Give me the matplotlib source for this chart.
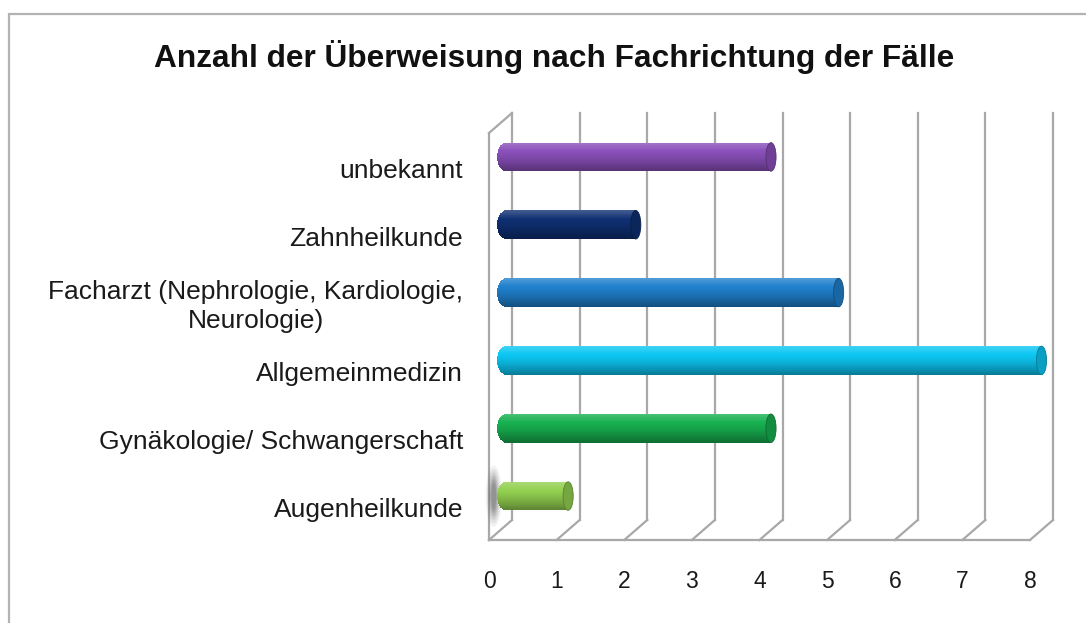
import matplotlib
matplotlib.use("Agg")
import matplotlib.pyplot as plt
import numpy as np
from matplotlib.patches import Ellipse, Rectangle
from matplotlib.transforms import offset_copy
from matplotlib.colors import to_rgb

# ---- data ----
categories = ["Augenheilkunde", "Gynäkologie/ Schwangerschaft", "Allgemeinmedizin",
              "Facharzt (Nephrologie, Kardiologie,\nNeurologie)", "Zahnheilkunde", "unbekannt"]
values = [1, 4, 8, 5, 2, 4]
colors = ["#92d050", "#17b050", "#0cc6f2", "#1f80cc", "#0e2f72", "#8a4fba"]
xticks = [0, 1, 2, 3, 4, 5, 6, 7, 8]
title = "Anzahl der Überweisung nach Fachrichtung der Fälle"

W, H = 1086, 623
fig = plt.figure(figsize=(W / 100, H / 100), dpi=100)
plt.rcParams['font.family'] = ['Liberation Sans', 'DejaVu Sans']

# outer chart frame
fig.patches.append(Rectangle((9 / W, -0.1), 1.2, 1.1 - 14 / H, transform=fig.transFigure,
                             fill=False, edgecolor="#b3b3b3", lw=1.6))

# axes = back wall
x0, x1, yb, yt = 512, 1053, 520, 113
ax = fig.add_axes([x0 / W, 1 - yb / H, (x1 - x0) / W, (yb - yt) / H])
ax.set_xlim(0, 8)
ax.set_ylim(-0.5, 5.5)
for s in ax.spines.values():
    s.set_visible(False)
ax.tick_params(length=0)

DX, DY = -23, -20
front = offset_copy(ax.transData, fig=fig, x=DX, y=DY, units='dots')
mid = offset_copy(ax.transData, fig=fig, x=DX / 2, y=DY / 2, units='dots')
gc = "#a8a8a8"
glw = 1.6

# back wall gridlines + floor diagonals
for k in xticks:
    ax.plot([k, k], [-0.5, 5.5], color=gc, lw=glw, clip_on=False, zorder=1)
    p_back = ax.transData.transform((k, -0.5))
    p_front = front.transform((k, -0.5))
    fig.lines.append(plt.Line2D([p_back[0] / W, p_front[0] / W], [p_back[1] / H, p_front[1] / H],
                                transform=fig.transFigure, color=gc, lw=glw))
# front floor edge
ax.plot([0, 8], [-0.5, -0.5], color=gc, lw=glw, clip_on=False, transform=front, zorder=1)
# left side wall: front vertical and top diagonal
ax.plot([0, 0], [-0.5, 5.5], color=gc, lw=glw, clip_on=False, transform=front, zorder=1)
pb = ax.transData.transform((0, 5.5))
pf = front.transform((0, 5.5))
fig.lines.append(plt.Line2D([pb[0] / W, pf[0] / W], [pb[1] / H, pf[1] / H],
                            transform=fig.transFigure, color=gc, lw=glw))

# bars (cylinders)
bh = 0.42
ew = 0.15
r = 0.13          # horizontal radius of rounded left end (x units)
x_start = -0.05
nstripes = 40
for i, (v, c) in enumerate(zip(values, colors)):
    base = np.array(to_rgb(c))
    light = base + (1 - base) * 0.22
    dark = base * 0.62
    # blurred shadow for the short bar near the side wall
    if i == 0:
        for a, (sw, sh) in zip([0.08, 0.10, 0.13, 0.16, 0.2, 0.22],
                               [(0.24, 0.9), (0.2, 0.8), (0.16, 0.7), (0.13, 0.6),
                                (0.1, 0.5), (0.07, 0.4)]):
            ax.add_patch(Ellipse((-0.1, i), sw, sh, transform=mid, facecolor="#555555",
                                 alpha=a, edgecolor="none", clip_on=False, zorder=2))

    def shade(t):
        if t < 0.3:
            col = light * (1 - t / 0.3) + base * (t / 0.3)
        else:
            u = (t - 0.3) / 0.7
            col = base * (1 - u ** 1.3) + dark * (u ** 1.3)
        return np.clip(col, 0, 1)

    yy = np.linspace(i + bh / 2, i - bh / 2, nstripes + 1)
    for s in range(nstripes):
        t = (s + 0.5) / nstripes
        sn = 2 * t - 1
        left = x_start + r * (1 - np.sqrt(max(0.0, 1 - sn ** 2)))
        ax.barh((yy[s] + yy[s + 1]) / 2, v - left, height=yy[s] - yy[s + 1] + 0.003,
                left=left, color=shade(t), transform=mid, clip_on=False, zorder=4,
                linewidth=0)
    # right end cap
    ax.add_patch(Ellipse((v, i), ew, bh, transform=mid, facecolor=base * 0.8,
                         edgecolor=base * 0.62, lw=0.6, clip_on=False, zorder=5))

# category labels
for i, cat in enumerate(categories):
    p = front.transform((0, i))
    ax.text(463, p[1] - 4, cat, transform=None, ha='right', va='center',
            multialignment='center', fontsize=19, color="#1a1a1a", linespacing=1.3)
ax.set_yticks([])

# x tick labels
ax.set_xticks([])
for k in xticks:
    p = front.transform((k, -0.5))
    ax.text(p[0], H - 581, str(k), transform=None, ha='center', va='center',
            fontsize=16.5, color="#1a1a1a")

fig.text(554 / W, 1 - 57 / H, title, ha='center', va='center', fontsize=22.8,
         fontweight='bold', color="#111111")

fig.savefig("out.png", dpi=100)
